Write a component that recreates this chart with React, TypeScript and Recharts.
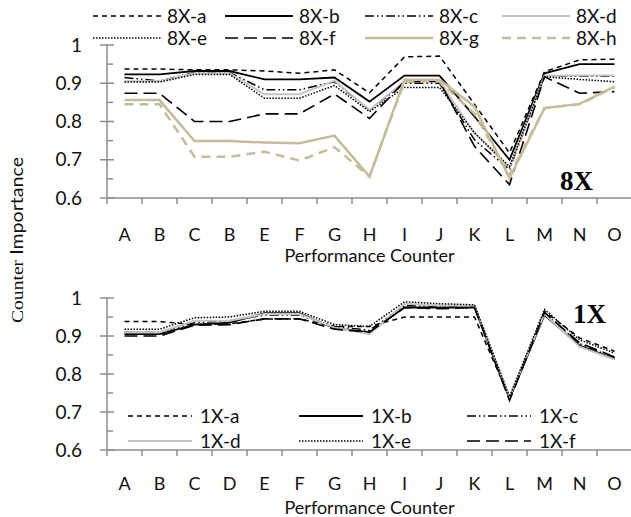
import React from 'react';
import { LineChart, Line, XAxis, YAxis } from 'recharts';

// category labels (top panel really has "B" twice)
const topLabels = ['A', 'B', 'C', 'B', 'E', 'F', 'G', 'H', 'I', 'J', 'K', 'L', 'M', 'N', 'O'];
const bottomLabels = ['A', 'B', 'C', 'D', 'E', 'F', 'G', 'H', 'I', 'J', 'K', 'L', 'M', 'N', 'O'];

// 8X runs
const s8a = [0.937, 0.937, 0.935, 0.935, 0.932, 0.926, 0.935, 0.875, 0.969, 0.971, 0.845, 0.718, 0.93, 0.961, 0.963];
const s8b = [0.923, 0.923, 0.932, 0.932, 0.91, 0.91, 0.915, 0.852, 0.92, 0.92, 0.813, 0.7, 0.926, 0.95, 0.95];
const s8c = [0.915, 0.906, 0.928, 0.928, 0.883, 0.883, 0.904, 0.83, 0.9, 0.9, 0.752, 0.674, 0.92, 0.918, 0.918];
const s8d = [0.905, 0.905, 0.926, 0.926, 0.871, 0.871, 0.907, 0.83, 0.905, 0.905, 0.77, 0.68, 0.92, 0.92, 0.92];
const s8e = [0.903, 0.903, 0.923, 0.923, 0.861, 0.861, 0.894, 0.826, 0.889, 0.889, 0.77, 0.682, 0.917, 0.91, 0.904];
const s8f = [0.874, 0.874, 0.8, 0.8, 0.82, 0.82, 0.872, 0.808, 0.905, 0.905, 0.735, 0.635, 0.917, 0.874, 0.878];
const s8g = [0.856, 0.856, 0.749, 0.749, 0.745, 0.743, 0.763, 0.656, 0.909, 0.909, 0.839, 0.652, 0.835, 0.846, 0.891];
const s8h = [0.845, 0.845, 0.708, 0.708, 0.721, 0.698, 0.733, 0.656, 0.905, 0.905, 0.82, 0.66, 0.835, 0.845, 0.89];

// 1X runs
const s1a = [0.938, 0.938, 0.93, 0.932, 0.945, 0.945, 0.925, 0.925, 0.95, 0.95, 0.95, 0.737, 0.965, 0.895, 0.86];
const s1b = [0.905, 0.905, 0.93, 0.935, 0.96, 0.96, 0.92, 0.91, 0.975, 0.975, 0.975, 0.735, 0.955, 0.875, 0.84];
const s1c = [0.91, 0.91, 0.935, 0.94, 0.955, 0.955, 0.925, 0.915, 0.98, 0.978, 0.978, 0.735, 0.96, 0.88, 0.842];
const s1d = [0.91, 0.91, 0.94, 0.94, 0.958, 0.958, 0.922, 0.905, 0.985, 0.98, 0.98, 0.74, 0.958, 0.872, 0.838];
const s1e = [0.918, 0.918, 0.948, 0.95, 0.965, 0.965, 0.93, 0.925, 0.99, 0.985, 0.982, 0.74, 0.97, 0.89, 0.855];
const s1f = [0.9, 0.9, 0.928, 0.93, 0.945, 0.945, 0.918, 0.91, 0.975, 0.972, 0.975, 0.73, 0.962, 0.882, 0.845];

const yTicks = [0.6, 0.65, 0.7, 0.75, 0.8, 0.85, 0.9, 0.95, 1];

const AXIS = '#8c8c8c';
const TAN = '#c6bc99';
const FONT = 'Lato, "Open Sans", sans-serif';

type LineStyle = { stroke: string; width: number; dash?: string };
const styles: Record<string, LineStyle> = {
  a: { stroke: '#000', width: 1.5, dash: '5 4' },
  b: { stroke: '#000', width: 1.8 },
  c: { stroke: '#000', width: 1.5, dash: '9 3 1.5 3 1.5 3' },
  d: { stroke: '#c4c4c4', width: 2 },
  e: { stroke: '#000', width: 1.5, dash: '1.5 1.5' },
  f: { stroke: '#000', width: 1.6, dash: '13 6' },
  g: { stroke: TAN, width: 2.5 },
  h: { stroke: TAN, width: 2.5, dash: '9 6' },
};

type Series = { name: string; values: number[]; style: string };
const series8: Series[] = [
  { name: '8X-a', values: s8a, style: 'a' },
  { name: '8X-b', values: s8b, style: 'b' },
  { name: '8X-c', values: s8c, style: 'c' },
  { name: '8X-d', values: s8d, style: 'd' },
  { name: '8X-e', values: s8e, style: 'e' },
  { name: '8X-f', values: s8f, style: 'f' },
  { name: '8X-g', values: s8g, style: 'g' },
  { name: '8X-h', values: s8h, style: 'h' },
];
const series1: Series[] = [
  { name: '1X-a', values: s1a, style: 'a' },
  { name: '1X-b', values: s1b, style: 'b' },
  { name: '1X-c', values: s1c, style: 'c' },
  { name: '1X-d', values: s1d, style: 'd' },
  { name: '1X-e', values: s1e, style: 'e' },
  { name: '1X-f', values: s1f, style: 'f' },
];

const buildRows = (labels: string[], series: Series[]) =>
  labels.map((_, i) => {
    const row: any = { idx: i };
    series.forEach((s) => (row[s.name] = s.values[i]));
    return row;
  });

const YTick = ({ x, y, payload }: any) => {
  const v = payload.value;
  const major = Math.abs(v * 10 - Math.round(v * 10)) < 1e-6;
  return (
    <g>
      {major ? (
        <line x1={x - 7} x2={x + 7} y1={y} y2={y} stroke={AXIS} strokeWidth={1.5} />
      ) : (
        <line x1={x} x2={x + 6} y1={y} y2={y} stroke={AXIS} strokeWidth={1.5} />
      )}
      {major && (
        <text x={x - 25} y={y} dy="0.35em" textAnchor="end" fontFamily={FONT} fontSize={19} fill="#111">
          {v === 1 ? '1' : v.toFixed(1)}
        </text>
      )}
    </g>
  );
};

const HALF = 17.5;

const XTick = ({ x, y, payload, index, labels, gap }: any) => (
  <g>
    <line x1={x - HALF} x2={x - HALF} y1={y} y2={y + 6} stroke={AXIS} strokeWidth={1.5} />
    {index === labels.length - 1 && (
      <line x1={x + HALF} x2={x + HALF} y1={y} y2={y + 6} stroke={AXIS} strokeWidth={1.5} />
    )}
    <text x={x} y={y + gap} dy="0.35em" textAnchor="middle" fontFamily={FONT} fontSize={18} fill="#111">
      {labels[payload.value]}
    </text>
  </g>
);

const Panel = ({ labels, series, top, height, marginTop, xHeight, gap, labelOffset }: any) => (
  <div style={{ position: 'absolute', left: 0, top, width: 632, height }}>
    <LineChart width={632} height={height} data={buildRows(labels, series)} margin={{ top: marginTop, right: 0, bottom: 0, left: 0 }}>
      <XAxis
        dataKey="idx"
        type="category"
        height={xHeight}
        interval={0}
        padding={{ left: HALF, right: HALF }}
        tickSize={0}
        tickMargin={0}
        tickLine={false}
        axisLine={{ stroke: AXIS, strokeWidth: 1.5 }}
        tick={(p: any) => <XTick {...p} labels={labels} gap={gap} />}
        label={{ value: 'Performance Counter', position: 'insideBottom', offset: labelOffset, fontFamily: FONT, fontSize: 18, fill: '#111' }}
      />
      <YAxis
        domain={[0.6, 1]}
        ticks={yTicks}
        interval={0}
        width={107}
        tickSize={0}
        tickMargin={0}
        tickLine={false}
        allowDataOverflow
        axisLine={{ stroke: AXIS, strokeWidth: 1.5 }}
        tick={(p: any) => <YTick {...p} />}
      />
      {series.map((s: Series) => {
        const st = styles[s.style];
        return (
          <Line
            key={s.name}
            type="linear"
            dataKey={s.name}
            stroke={st.stroke}
            strokeWidth={st.width}
            strokeDasharray={st.dash}
            dot={false}
            activeDot={false}
            isAnimationActive={false}
          />
        );
      })}
    </LineChart>
  </div>
);

// legend entries laid out like the original (rows x columns)
const LegendBlock = ({ series, cols, rowsY, lineLen, textGap }: any) => (
  <g>
    {series.map((s: Series, i: number) => {
      const st = styles[s.style];
      const cx = cols[i % cols.length];
      const cy = rowsY[Math.floor(i / cols.length)];
      return (
        <g key={s.name}>
          <line x1={cx} x2={cx + lineLen} y1={cy} y2={cy} stroke={st.stroke} strokeWidth={st.width} strokeDasharray={st.dash} />
          <text x={cx + lineLen + textGap} y={cy} dy="0.35em" fontFamily={FONT} fontSize={19} fill="#111">
            {s.name}
          </text>
        </g>
      );
    })}
  </g>
);

export default function App() {
  return (
    <div style={{ position: 'absolute', left: 0, top: 0, width: 631, height: 517, overflow: 'hidden', background: '#fff' }}>
      <Panel labels={topLabels} series={series8} top={0} height={270} marginTop={45} xHeight={72} gap={37} labelOffset={8} />
      <Panel labels={bottomLabels} series={series1} top={262} height={255} marginTop={36} xHeight={67} gap={34} labelOffset={3} />
      <svg width={631} height={517} style={{ position: 'absolute', left: 0, top: 0, pointerEvents: 'none' }}>
        <LegendBlock series={series8} cols={[93, 225, 365, 502]} rowsY={[16, 38]} lineLen={68} textGap={6} />
        <LegendBlock series={series1} cols={[128, 299, 467]} rowsY={[416, 441]} lineLen={64} textGap={8} />
        <text
          transform="translate(23,240) rotate(-90)"
          textAnchor="middle"
          fontSize={17}
          fill="#111"
          textLength={166}
          lengthAdjust="spacingAndGlyphs"
        >
          <tspan fontFamily='"Liberation Serif", serif'>Counter</tspan>
          <tspan fontFamily={FONT}>{'\u00a0Importance'}</tspan>
        </text>
        <text x={560} y={190} fontFamily='"Liberation Serif", serif' fontWeight="bold" fontSize={27} fill="#000">
          8X
        </text>
        <text x={573} y={323} fontFamily='"Liberation Serif", serif' fontWeight="bold" fontSize={27} fill="#000">
          1X
        </text>
      </svg>
    </div>
  );
}
